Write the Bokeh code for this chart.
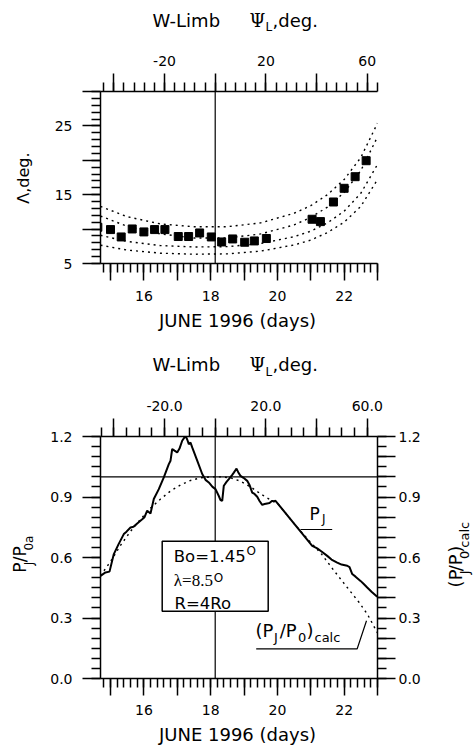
from bokeh.plotting import figure
from bokeh.models import Range1d, LinearAxis, FixedTicker, Span, BoxAnnotation, Label
from bokeh.layouts import column, row
from bokeh.embed import file_html
from bokeh.resources import INLINE

# ---------------- data ----------------
# upper panel: apparent latitude Lambda (deg) of the source vs. day of June 1996
sq_day = [14.62, 15.00, 15.32, 15.65, 16.00, 16.32, 16.63, 17.03, 17.34, 17.67, 18.02,
          18.33, 18.66, 19.02, 19.31, 19.67, 21.04, 21.29, 21.68, 22.00, 22.33, 22.66]
sq_lam = [10.27, 9.93, 8.86, 10.02, 9.59, 9.93, 9.93, 8.92, 8.92, 9.44, 8.86,
          8.13, 8.57, 8.09, 8.28, 8.63, 11.43, 11.09, 13.94, 15.93, 17.62, 19.94]

# four dotted model curves
mod_day = [14.7, 15.5, 16.5, 17.5, 18.5, 19.5, 20.5, 21.0, 21.5, 22.0, 22.5, 23.0]
mod_a = [13.3, 11.8, 10.75, 10.35, 10.35, 10.9, 12.3, 13.4, 15.0, 17.2, 20.4, 25.4]
mod_b = [11.9, 10.4, 9.3, 8.7, 8.7, 9.3, 10.6, 11.7, 13.2, 15.3, 18.5, 23.4]
mod_c = [9.1, 8.2, 7.6, 7.4, 7.45, 7.9, 8.9, 9.7, 10.9, 12.6, 15.2, 19.4]
mod_d = [7.66, 6.95, 6.5, 6.35, 6.4, 6.8, 7.7, 8.4, 9.5, 11.0, 13.3, 17.2]

# lower panel: P_J / P_0a (solid) and (P_J/P_0)_calc (dotted)
pj_day = [14.700, 14.850, 14.970, 15.099, 15.239, 15.398, 15.479, 15.599, 15.689, 15.800,
          15.950, 16.019, 16.099, 16.198, 16.297, 16.447, 16.597, 16.747, 16.798, 16.849,
          16.918, 16.998, 17.067, 17.148, 17.247, 17.298, 17.346, 17.397, 17.448, 17.598,
          17.748, 17.847, 17.945, 18.056, 18.146, 18.245, 18.296, 18.347, 18.395, 18.476,
          18.545, 18.647, 18.695, 18.776, 18.835, 18.895, 18.985, 19.096, 19.165, 19.246,
          19.315, 19.396, 19.465, 19.546, 19.615, 19.695, 19.764, 19.845, 19.884, 19.944,
          21.044, 21.194, 21.323, 21.494, 21.622, 21.793, 21.922, 22.093, 22.162, 22.243,
          22.342, 22.491, 22.581, 22.692, 22.821, 22.992]
pj_val = [0.509, 0.526, 0.530, 0.617, 0.665, 0.716, 0.728, 0.749, 0.752, 0.769,
          0.790, 0.800, 0.832, 0.818, 0.890, 0.939, 0.997, 1.063, 1.080, 1.138,
          1.130, 1.121, 1.140, 1.179, 1.203, 1.185, 1.162, 1.170, 1.146, 1.080,
          1.014, 0.985, 0.972, 0.950, 0.939, 0.905, 0.885, 0.881, 0.956, 0.975,
          0.989, 1.010, 1.021, 1.041, 1.020, 1.005, 0.995, 0.980, 0.960, 0.922,
          0.915, 0.901, 0.880, 0.861, 0.865, 0.868, 0.870, 0.881, 0.878, 0.881,
          0.658, 0.645, 0.630, 0.608, 0.590, 0.575, 0.565, 0.559, 0.552, 0.518,
          0.505, 0.484, 0.470, 0.451, 0.430, 0.405]

calc_day = [14.7, 15.0, 15.3, 15.6, 15.9, 16.2, 16.5, 16.8, 17.1, 17.4, 17.7, 18.0, 18.3,
            18.6, 18.9, 19.2, 19.5, 19.8, 20.0, 20.5, 21.04, 21.3, 21.7, 22.1, 22.45, 22.7, 23.0]
calc_val = [0.51, 0.58, 0.66, 0.73, 0.79, 0.845, 0.89, 0.93, 0.96, 0.982, 0.995, 1.0, 1.0,
            0.995, 0.978, 0.95, 0.915, 0.885, 0.87, 0.768, 0.667, 0.622, 0.534, 0.45, 0.377, 0.318, 0.226]

# axes
day_major = [15, 16, 17, 18, 19, 20, 21, 22, 23]
day_labels = {15: "", 16: "16", 17: "", 18: "18", 19: "", 20: "20", 21: "", 22: "22", 23: ""}
psi_major = [-40, -20, 0, 20, 40, 60]
psi_labels_top = {-40: "", -20: "-20", 0: "", 20: "20", 40: "", 60: "60"}
psi_labels_bot = {-40: "", -20: "-20.0", 0: "", 20: "20.0", 40: "", 60: "60.0"}
lam_major = [5, 10, 15, 20, 25, 30]
lam_labels = {5: "5", 10: "", 15: "15", 20: "", 25: "25", 30: ""}
pl_major = [0.0, 0.3, 0.6, 0.9, 1.2]
pl_labels = {0.0: "0.0", 0.3: "0.3", 0.6: "0.6", 0.9: "0.9", 1.2: "1.2"}
pr_major = [0.0, 0.1, 0.2, 0.3, 0.4, 0.5, 0.6, 0.7, 0.8, 0.9, 1.0, 1.1, 1.2]
pr_labels = {0.0: "0.0", 0.1: "", 0.2: "", 0.3: "0.3", 0.4: "", 0.5: "", 0.6: "0.6",
             0.7: "", 0.8: "", 0.9: "0.9", 1.0: "", 1.1: "", 1.2: "1.2"}

psi0_day = 18.137      # day where Psi_L = 0 (vertical line)
deg_per_day = 13.17

# ---------------- layout helpers ----------------
X0, X1 = 14.7, 23.0
FONT = "DejaVu Sans"
FL, FR = 100, 377               # frame left/right (page px)
PXD = (FR - FL) / (X1 - X0)
B_FT, B_FB = 436, 678           # lower frame top/bottom (page px)
LW = 40                         # width of the left title strip
RW = 38                         # width of the right title strip
A = 1.5708


def cx(x):
    return X0 + (x - FL) / PXD


def cyb(y):
    return (B_FB - y) / ((B_FB - B_FT) / 1.2)


def put(p, conv, x, y, text, size, font=FONT, rot=False, align="left"):
    """Place a text whose baseline starts at page pixel (x, y)."""
    k = 0.3375 if "Serif" in font and "DejaVu" not in font else 0.346
    if rot:
        x = x - k * size
    else:
        y = y - k * size
    X, Y = conv(x, y)
    p.add_layout(Label(x=X, y=Y, text=text, text_font=font, text_font_size=f"{size}px",
                       text_color="black", angle=A if rot else 0.0, text_align=align,
                       text_baseline="middle"))


def local(ox, oy):
    return lambda x, y: (x - ox, y - oy)


def panel_b(x, y):
    return cx(x), cyb(y)


def text_fig(w, h):
    f = figure(width=w, height=h, x_range=Range1d(0, w), y_range=Range1d(h, 0),
               output_backend="svg", toolbar_location=None, title=None,
               x_axis_type=None, y_axis_type=None, min_border=0)
    f.outline_line_color = None
    f.background_fill_color = "white"
    f.border_fill_color = "white"
    return f


def style(ax, tick_out, minor_out, standoff):
    ax.axis_line_color = "black"
    ax.axis_line_width = 1.5
    ax.major_tick_line_color = "black"
    ax.minor_tick_line_color = "black"
    ax.major_tick_line_width = 1.5
    ax.minor_tick_line_width = 1.5
    ax.major_tick_in = 0
    ax.minor_tick_in = 0
    ax.major_tick_out = tick_out
    ax.minor_tick_out = minor_out
    ax.major_label_text_font = FONT
    ax.major_label_text_font_size = "14px"
    ax.major_label_text_color = "black"
    ax.major_label_standoff = standoff


def make_fig(w, h, btop, bbot, bright, y0, y1):
    p = figure(width=w, height=h, x_range=Range1d(X0, X1), y_range=Range1d(y0, y1),
               output_backend="svg", toolbar_location=None, title=None,
               x_axis_type=None, y_axis_type=None,
               min_border_left=FL - LW, min_border_right=bright,
               min_border_top=btop, min_border_bottom=bbot)
    p.outline_line_color = None
    p.background_fill_color = "white"
    p.border_fill_color = "white"
    psi_lo = (X0 - psi0_day) * deg_per_day
    psi_hi = (X1 - psi0_day) * deg_per_day
    p.extra_x_ranges = {"psi": Range1d(psi_lo, psi_hi)}
    return p


def day_axis(p, standoff):
    ax = LinearAxis(ticker=FixedTicker(ticks=day_major,
                                       minor_ticks=[round(14.8 + 0.2 * i, 1) for i in range(42)]))
    ax.major_label_overrides = day_labels
    style(ax, 17, 9, standoff)
    p.add_layout(ax, "below")


def header(f, conv, base):
    put(f, conv, 152, base, "W-Limb", 18)
    put(f, conv, 249, base, "\u03a8", 18, font="DejaVu Serif")
    put(f, conv, 265, base + 5, "L", 12)
    put(f, conv, 272, base, ",deg.", 18)


# ---------------- page rows ----------------
# row 1: header of the upper panel (page y 0..40)
h1 = text_fig(473, 40)
header(h1, local(0, 0), 26)

# row 2: upper panel (page y 40..308)
TOP_Y, TOP_H = 40, 268
pt = make_fig(473 - LW, TOP_H, 91 - TOP_Y, TOP_Y + TOP_H - 263, 473 - FR, 5, 30)
day_axis(pt, 10)
ax = LinearAxis(x_range_name="psi",
                ticker=FixedTicker(ticks=psi_major, minor_ticks=list(range(-44, 65, 4))))
ax.major_label_overrides = psi_labels_top
style(ax, 18, 9, 8)
pt.add_layout(ax, "above")
ax = LinearAxis(ticker=FixedTicker(ticks=lam_major, minor_ticks=list(range(5, 31))))
ax.major_label_overrides = lam_labels
style(ax, 18, 9, 10)
pt.add_layout(ax, "left")

pt.add_layout(Span(location=psi0_day, dimension="height", line_color="black", line_width=1.2))
for c in (mod_a, mod_b, mod_c, mod_d):
    pt.line(mod_day, c, line_color="black", line_width=1.4, line_dash="2 4")
pt.scatter(sq_day, sq_lam, marker="square", size=8, fill_color="black", line_color="black")

lt1 = text_fig(LW, TOP_H)
put(lt1, local(0, TOP_Y), 29, 175, "\u039b,deg.", 16, rot=True, align="center")

# row 3: x title of upper panel + header of lower panel (page y 308..390)
MID_Y = 308
mid = text_fig(473, 390 - MID_Y)
put(mid, local(0, MID_Y), 237, 326.7, "JUNE 1996 (days)", 18, align="center")
header(mid, local(0, MID_Y), 370.7)

# row 4: lower panel (page y 390..722)
BOT_Y, BOT_H = 390, 332
pb = make_fig(473 - LW - RW, BOT_H, B_FT - BOT_Y, BOT_Y + BOT_H - B_FB, 473 - RW - FR, 0, 1.2)
day_axis(pb, 9)
ax = LinearAxis(x_range_name="psi",
                ticker=FixedTicker(ticks=psi_major, minor_ticks=list(range(-45, 65, 5))))
ax.major_label_overrides = psi_labels_bot
style(ax, 18, 9, 8)
pb.add_layout(ax, "above")
ax = LinearAxis(ticker=FixedTicker(ticks=pl_major,
                                   minor_ticks=[round(0.05 * i, 2) for i in range(25)]))
ax.major_label_overrides = pl_labels
style(ax, 18, 9, 10)
pb.add_layout(ax, "left")
ax = LinearAxis(ticker=FixedTicker(ticks=pr_major,
                                   minor_ticks=[round(0.05 * i, 2) for i in range(25)]))
ax.major_label_overrides = pr_labels
style(ax, 18, 9, 3)
pb.add_layout(ax, "right")

pb.add_layout(Span(location=1.0, dimension="width", line_color="black", line_width=1.2))
pb.add_layout(Span(location=psi0_day, dimension="height", line_color="black", line_width=1.2))
pb.line(calc_day, calc_val, line_color="black", line_width=1.4, line_dash="2 4")
pb.line(pj_day, pj_val, line_color="black", line_width=2)

# parameter box
pb.add_layout(BoxAnnotation(left=cx(161.7), right=cx(267.7), top=cyb(540.7), bottom=cyb(610.7),
                            fill_color="white", fill_alpha=1.0, line_color="black",
                            line_alpha=1.0, line_width=1.5, level="annotation"))
put(pb, panel_b, 173.3, 561.7, "Bo=1.45", 16.5)
put(pb, panel_b, 246.0, 555, "O", 12)
put(pb, panel_b, 173.3, 585.7, "\u03bb=8.5", 17, font="Liberation Serif")
put(pb, panel_b, 213.3, 582, "O", 12)
put(pb, panel_b, 174, 608.3, "R=4Ro", 16.5)

# P_J label with underline
put(pb, panel_b, 309, 519, "P", 17)
put(pb, panel_b, 321.5, 522.5, "J", 12)
pb.line([cx(300), cx(331.7)], [cyb(529), cyb(529)], line_color="black", line_width=1.2)

# (P_J/P_0)_calc label with leader
put(pb, panel_b, 255, 636.7, "(P", 18)
put(pb, panel_b, 273.5, 641, "J", 13)
put(pb, panel_b, 279.3, 636.7, "/P", 18)
put(pb, panel_b, 297.5, 641, "0", 13)
put(pb, panel_b, 306, 636.7, ")", 18)
put(pb, panel_b, 314, 641, "calc", 13)
pb.line([cx(255.7), cx(356.7), cx(366)], [cyb(648.3), cyb(648.3), cyb(620.3)],
        line_color="black", line_width=1.2)

# left title P_J/P_0a (rotated)
lt2 = text_fig(LW, BOT_H)
cl = local(0, BOT_Y)
y0 = 577
put(lt2, cl, 25.5, y0, "P", 17, rot=True)
put(lt2, cl, 32.5, y0 - 10.5, "J", 12, rot=True)
put(lt2, cl, 25.5, y0 - 14.5, "/P", 17, rot=True)
put(lt2, cl, 32.5, y0 - 30.5, "0a", 12, rot=True)

# right title (P_J/P_0)_calc (rotated)
rt2 = text_fig(RW, BOT_H)
cr = local(473 - RW, BOT_Y)
y0 = 597
put(rt2, cr, 461, y0, "(P", 18, rot=True)
put(rt2, cr, 468.5, y0 - 18.0, "J", 13, rot=True)
put(rt2, cr, 461, y0 - 22.0, "/P", 18, rot=True)
put(rt2, cr, 468.5, y0 - 39.0, "0", 13, rot=True)
put(rt2, cr, 461, y0 - 47.5, ")", 18, rot=True)
put(rt2, cr, 468.5, y0 - 54.5, "calc", 13, rot=True)

# row 5: x title of lower panel (page y 722..747)
FOOT_Y = 722
foot = text_fig(473, 747 - FOOT_Y)
put(foot, local(0, FOOT_Y), 237, 740, "JUNE 1996 (days)", 18, align="center")

layout = column(h1, row(lt1, pt, spacing=0), mid, row(lt2, pb, rt2, spacing=0), foot, spacing=0)
open("out.html", "w").write(file_html(layout, INLINE))
